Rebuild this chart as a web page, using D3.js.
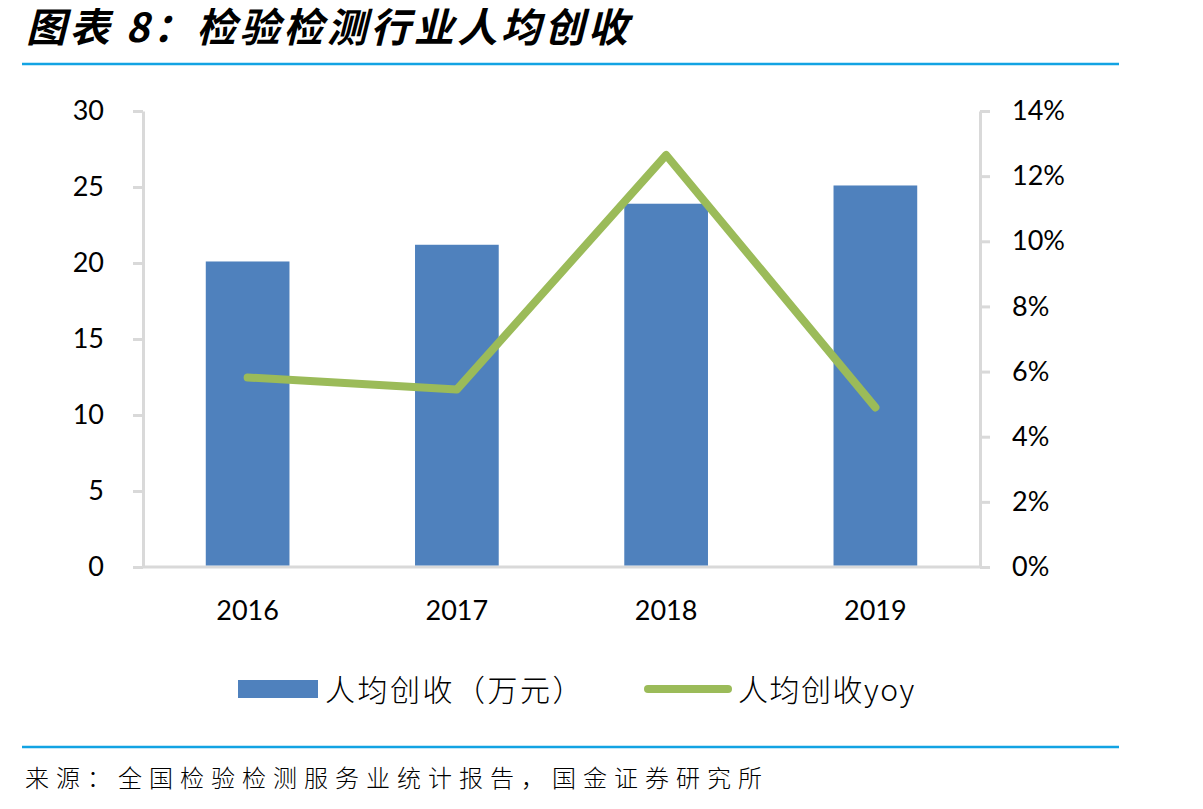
<!DOCTYPE html>
<html>
<head>
<meta charset="utf-8">
<script src="https://cdn.jsdelivr.net/npm/d3@7"></script>
<style>
  html, body { margin: 0; padding: 0; background: #fff; }
  svg { display: block; }
</style>
</head>
<body>
<svg id="chart" width="1203" height="809"></svg>
<script>
const titleText = "图表 8：检验检测行业人均创收";
const sourceText = "来源：全国检验检测服务业统计报告，国金证券研究所";
const categories = ["2016", "2017", "2018", "2019"];
const revenue = [20.1, 21.2, 23.9, 25.1];          // 人均创收（万元）
const revenueYoy = [5.82, 5.45, 12.65, 4.9];        // 人均创收yoy (%)
const leftTicks = [0, 5, 10, 15, 20, 25, 30];
const rightTicks = [0, 2, 4, 6, 8, 10, 12, 14];
const seriesNames = ["人均创收（万元）", "人均创收yoy"];

const svg = d3.select("#chart");
svg.append("rect").attr("width", 1203).attr("height", 809).attr("fill", "#fff");

const numFont = "Lato, 'Open Sans', sans-serif";
const cjkFont = "'Noto Sans CJK SC', sans-serif";
const axisColor = "#D9D9D9";

// Title
svg.append("text")
  .attr("x", 26).attr("y", 42)
  .attr("font-family", cjkFont)
  .attr("font-size", 40).attr("font-weight", "bold").attr("font-style", "italic")
  .attr("letter-spacing", 3.5)
  .attr("fill", "#000")
  .text(titleText);

// Separator lines
svg.append("line").attr("x1", 22).attr("x2", 1119).attr("y1", 64).attr("y2", 64)
  .attr("stroke", "#12A3E3").attr("stroke-width", 2.5);
svg.append("line").attr("x1", 22).attr("x2", 1119).attr("y1", 747).attr("y2", 747)
  .attr("stroke", "#12A3E3").attr("stroke-width", 2.5);

// Scales
const x = d3.scaleBand().domain(categories).range([143, 980]).paddingInner(0.6).paddingOuter(0.3);
const yL = d3.scaleLinear().domain([0, 30]).range([567, 111]);
const yR = d3.scaleLinear().domain([0, 14]).range([567, 111]);

// Axes
const gL = svg.append("g").attr("transform", "translate(143,0)")
  .call(d3.axisLeft(yL).tickValues(leftTicks).tickSize(10).tickSizeOuter(0).tickPadding(29));
const gR = svg.append("g").attr("transform", "translate(980,0)")
  .call(d3.axisRight(yR).tickValues(rightTicks).tickSize(10).tickSizeOuter(0).tickPadding(22)
    .tickFormat(d => d + "%"));
[gL, gR].forEach(g => {
  g.select(".domain").attr("stroke", axisColor).attr("stroke-width", 3);
  g.selectAll(".tick line").attr("stroke", axisColor).attr("stroke-width", 3);
  g.selectAll(".tick text").attr("font-family", numFont).attr("font-size", 27).attr("fill", "#000");
});

// Bottom axis line
svg.append("line").attr("x1", 143).attr("x2", 980).attr("y1", yL(0)).attr("y2", yL(0))
  .attr("stroke", axisColor).attr("stroke-width", 3);

// Category labels
svg.append("g").selectAll("text").data(categories).join("text")
  .attr("x", d => x(d) + x.bandwidth() / 2)
  .attr("y", 620)
  .attr("text-anchor", "middle")
  .attr("font-family", numFont).attr("font-size", 27).attr("fill", "#000")
  .text(d => d);

// Bars
svg.append("g").selectAll("rect").data(revenue).join("rect")
  .attr("x", (d, i) => x(categories[i]))
  .attr("y", d => yL(d))
  .attr("width", x.bandwidth())
  .attr("height", d => yL(0) - yL(d) - 1.5)
  .attr("fill", "#4F81BD");

// Line
const line = d3.line()
  .x((d, i) => x(categories[i]) + x.bandwidth() / 2)
  .y(d => yR(d));
svg.append("path").datum(revenueYoy)
  .attr("d", line)
  .attr("fill", "none")
  .attr("stroke", "#9BBB59")
  .attr("stroke-width", 8)
  .attr("stroke-linecap", "round")
  .attr("stroke-linejoin", "round");

// Legend
svg.append("rect").attr("x", 238).attr("y", 680).attr("width", 80).attr("height", 18).attr("fill", "#4F81BD");
svg.append("text").attr("x", 325).attr("y", 701)
  .attr("font-family", cjkFont).attr("font-size", 30).attr("font-weight", 300)
  .attr("letter-spacing", 2.5).attr("fill", "#000")
  .text(seriesNames[0]);
svg.append("line").attr("x1", 648).attr("x2", 728).attr("y1", 689).attr("y2", 689)
  .attr("stroke", "#9BBB59").attr("stroke-width", 8).attr("stroke-linecap", "round");
svg.append("text").attr("x", 738).attr("y", 701)
  .attr("font-family", cjkFont).attr("font-size", 30).attr("font-weight", 300)
  .attr("letter-spacing", 1.5).attr("fill", "#000")
  .text(seriesNames[1]);

// Source
svg.append("text").attr("x", 25).attr("y", 787)
  .attr("font-family", cjkFont).attr("font-size", 24).attr("font-weight", 300)
  .attr("letter-spacing", 7).attr("fill", "#000")
  .text(sourceText);
</script>
</body>
</html>
